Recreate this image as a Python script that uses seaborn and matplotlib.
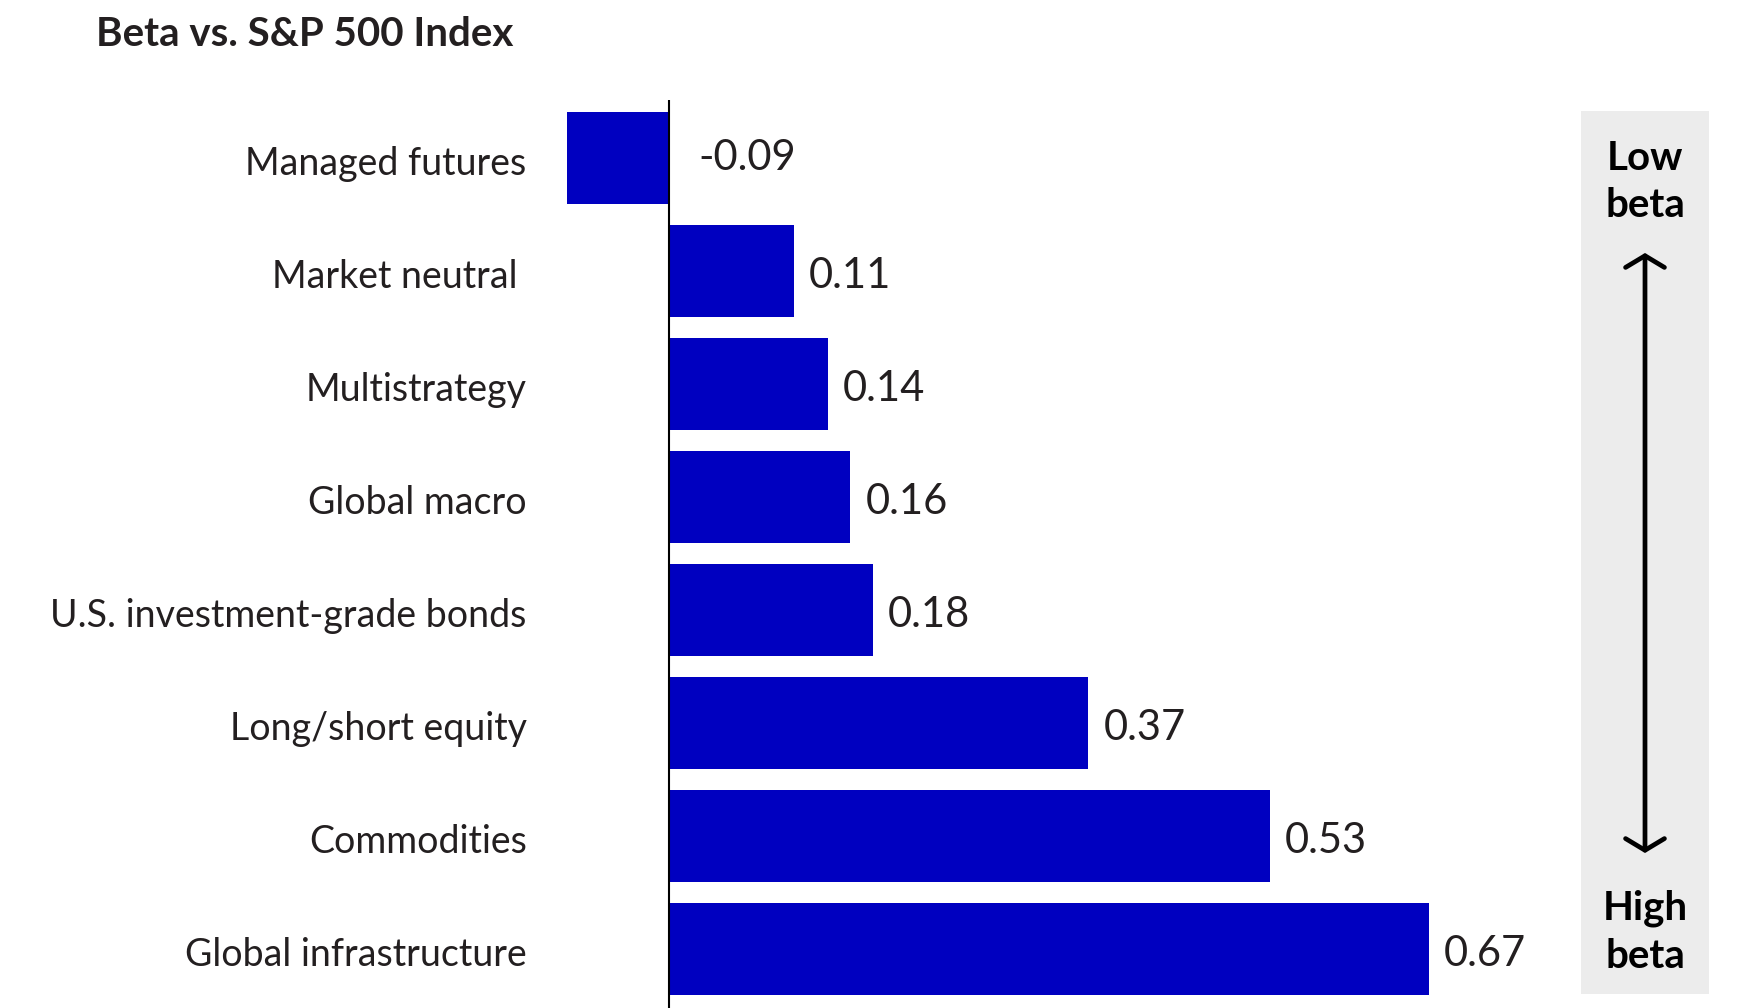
import matplotlib
matplotlib.use("Agg")
import matplotlib.pyplot as plt
import matplotlib.transforms as mtransforms
import seaborn as sns
import pandas as pd
from matplotlib.patches import Rectangle, FancyArrowPatch

categories = ["Managed futures", "Market neutral ", "Multistrategy", "Global macro",
              "U.S. investment-grade bonds", "Long/short equity", "Commodities",
              "Global infrastructure"]
values = [-0.09, 0.11, 0.14, 0.16, 0.18, 0.37, 0.53, 0.67]
value_labels = ["-0.09", "0.11", "0.14", "0.16", "0.18", "0.37", "0.53", "0.67"]
title = "Beta vs. S&P 500 Index"

BAR = "#0000C0"
TXT = "#231f20"
W, H = 1742, 1008

sns.set_theme(style="white")
plt.rcParams["font.family"] = ["Lato", "DejaVu Sans"]

fig = plt.figure(figsize=(W / 100, H / 100), dpi=100)
ax = fig.add_axes([567 / W, 0, (1560 - 567) / W, 908 / H])

df = pd.DataFrame({"category": categories, "value": values})
sns.barplot(data=df, y="category", x="value", orient="h", color=BAR,
            saturation=1, width=0.81, ax=ax, linewidth=0)

ax.set_xlim(-0.09, 0.786)
ax.set_ylim(7.522, -0.513)
for s in ax.spines.values():
    s.set_visible(False)
ax.set_xticks([])
ax.set_xlabel("")
ax.set_ylabel("")
ax.tick_params(axis="y", length=0, pad=29, labelsize=27, labelcolor=TXT)
shift = mtransforms.ScaledTranslation(0, -2.5 / 100, fig.dpi_scale_trans)
for t in ax.get_yticklabels():
    t.set_transform(t.get_transform() + shift)
ax.axvline(0, color="black", lw=1.5, zorder=5)

for i, (v, lab) in enumerate(zip(values, value_labels)):
    off = 29 if v < 0 else 15
    dy = 0 if v < 0 else -3.5
    ax.annotate(lab, xy=(max(v, 0), i), xytext=(off * 0.72, dy),
                textcoords="offset points", ha="left", va="center",
                fontsize=30, color=TXT)

fig.text(96 / W, 1 - 34 / H, title, fontsize=29, fontweight="bold",
         color=TXT, ha="left", va="center")

# side panel
fig.patches.append(Rectangle((1581 / W, 14 / H), 128 / W, 883 / H,
                             transform=fig.transFigure, facecolor="#ececec",
                             edgecolor="none", zorder=0))
for txt, y in [("Low", 158), ("beta", 206), ("High", 908), ("beta", 956)]:
    fig.text(1645 / W, 1 - y / H, txt, fontsize=29, fontweight="bold",
             color="black", ha="center", va="center")
arrow = FancyArrowPatch((1645 / W, 1 - 853 / H), (1645 / W, 1 - 253 / H),
                        transform=fig.transFigure,
                        arrowstyle="<->,head_length=0.3,head_width=0.5",
                        mutation_scale=28, lw=3.4, color="black",
                        shrinkA=0, shrinkB=0, zorder=3)
fig.add_artist(arrow)

fig.savefig("out.png", dpi=100)
